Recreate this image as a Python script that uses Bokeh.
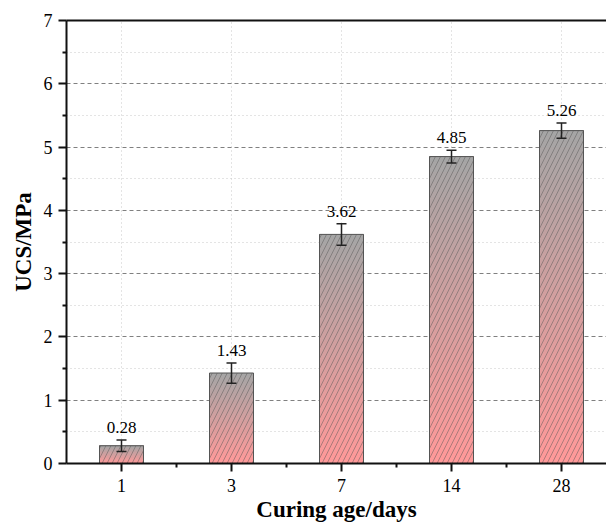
from bokeh.plotting import figure
from bokeh.models import (ColumnDataSource, FixedTicker, LinearAxis, Range1d,
                          Whisker, TeeHead)
from bokeh.core.properties import value
from bokeh.embed import file_html
from bokeh.resources import INLINE

# ---- data ----
ages = ["1", "3", "7", "14", "28"]
ucs = [0.28, 1.43, 3.62, 4.85, 5.26]
ucs_err = [0.09, 0.16, 0.17, 0.10, 0.12]
y_ticks = [0, 1, 2, 3, 4, 5, 6, 7]

FONT = "Liberation Serif"
xpos = list(range(1, len(ages) + 1))
bar_w = 0.4

p = figure(width=606, height=524, output_backend="svg", toolbar_location=None,
           x_range=Range1d(0.5, 5.409), y_range=Range1d(0, 7),
           min_border_left=66, min_border_right=0, min_border_top=20,
           min_border_bottom=61)
p.outline_line_color = None
p.background_fill_color = "white"
p.border_fill_color = "white"

# gradient bars (gray top -> pink bottom), layered so no seams
N = 60
top_c = (165, 165, 165)
bot_c = (255, 153, 153)
for i in range(N):
    t = i / (N - 1)
    col = "#%02x%02x%02x" % tuple(int(round(b + (a - b) * t)) for a, b in zip(top_c, bot_c))
    src = ColumnDataSource(dict(
        left=[x - bar_w / 2 for x in xpos],
        right=[x + bar_w / 2 for x in xpos],
        bottom=[v * i / N for v in ucs],
        top=ucs,
    ))
    p.quad(left="left", right="right", bottom="bottom", top="top", source=src,
           fill_color=col, line_color=None)

# hatch + outline overlay
ov = ColumnDataSource(dict(
    left=[x - bar_w / 2 for x in xpos],
    right=[x + bar_w / 2 for x in xpos],
    bottom=[0] * len(ucs),
    top=ucs,
))
p.quad(left="left", right="right", bottom="bottom", top="top", source=ov,
       fill_alpha=0, hatch_pattern="/", hatch_color="#505050", hatch_scale=10,
       hatch_weight=0.6, hatch_alpha=0.75, line_color="#555555", line_width=1)

# error bars
esrc = ColumnDataSource(dict(
    x=xpos,
    upper=[v + e for v, e in zip(ucs, ucs_err)],
    lower=[v - e for v, e in zip(ucs, ucs_err)],
    lab=["%.2f" % v for v in ucs],
))
wh = Whisker(base="x", upper="upper", lower="lower", source=esrc,
             line_color="#222222", line_width=1.5,
             upper_head=TeeHead(size=10, line_color="#222222", line_width=1.5),
             lower_head=TeeHead(size=10, line_color="#222222", line_width=1.5),
             level="overlay")
p.add_layout(wh)

p.text(x="x", y="upper", text="lab", source=esrc, text_align="center",
       text_baseline="bottom", y_offset=-7, text_font=value(FONT),
       text_font_size="17px", text_color="black")

# axes
xa = p.xaxis[0]
xa.ticker = FixedTicker(ticks=xpos, minor_ticks=[1.5, 2.5, 3.5, 4.5, 5.5])
xa.major_label_overrides = {x: a for x, a in zip(xpos, ages)}
ya = p.yaxis[0]
ya.ticker = FixedTicker(ticks=y_ticks, minor_ticks=[t + 0.5 for t in y_ticks[:-1]])

for ax in (xa, ya):
    ax.axis_line_width = 2
    ax.axis_line_color = "#111111"
    ax.major_tick_line_width = 2
    ax.major_tick_line_color = "#111111"
    ax.minor_tick_line_width = 2
    ax.minor_tick_line_color = "#111111"
    ax.major_tick_in = 0
    ax.major_tick_out = 8
    ax.minor_tick_in = 0
    ax.minor_tick_out = 4
    ax.major_label_text_font = FONT
    ax.major_label_text_font_size = "18px"
    ax.major_label_text_color = "black"
    ax.major_label_standoff = 6
    ax.axis_label_text_font = FONT
    ax.axis_label_text_font_style = "bold"
    ax.axis_label_text_font_size = "23px"
    ax.axis_label_text_color = "black"

xa.axis_label = "Curing age/days"
xa.major_label_standoff = 7
xa.axis_label_standoff = 2
ya.axis_label = "UCS/MPa"
ya.axis_label_standoff = 5
ya.major_label_orientation = "horizontal"

top_axis = LinearAxis(ticker=FixedTicker(ticks=[]), axis_line_width=2,
                      axis_line_color="#111111", major_tick_line_color=None,
                      minor_tick_line_color=None, major_label_text_font_size="0px",
                      major_label_standoff=0)
p.add_layout(top_axis, "above")

# grids
p.xgrid.grid_line_color = "#c8c8c8"
p.xgrid.grid_line_dash = "1 3"
p.xgrid.grid_line_width = 1
p.ygrid.grid_line_color = "#808080"
p.ygrid.grid_line_dash = "4 3"
p.ygrid.grid_line_width = 1
p.ygrid.minor_grid_line_color = "#c8c8c8"
p.ygrid.minor_grid_line_dash = "1 3"
p.ygrid.minor_grid_line_width = 1

open("out.html", "w").write(file_html(p, INLINE))
